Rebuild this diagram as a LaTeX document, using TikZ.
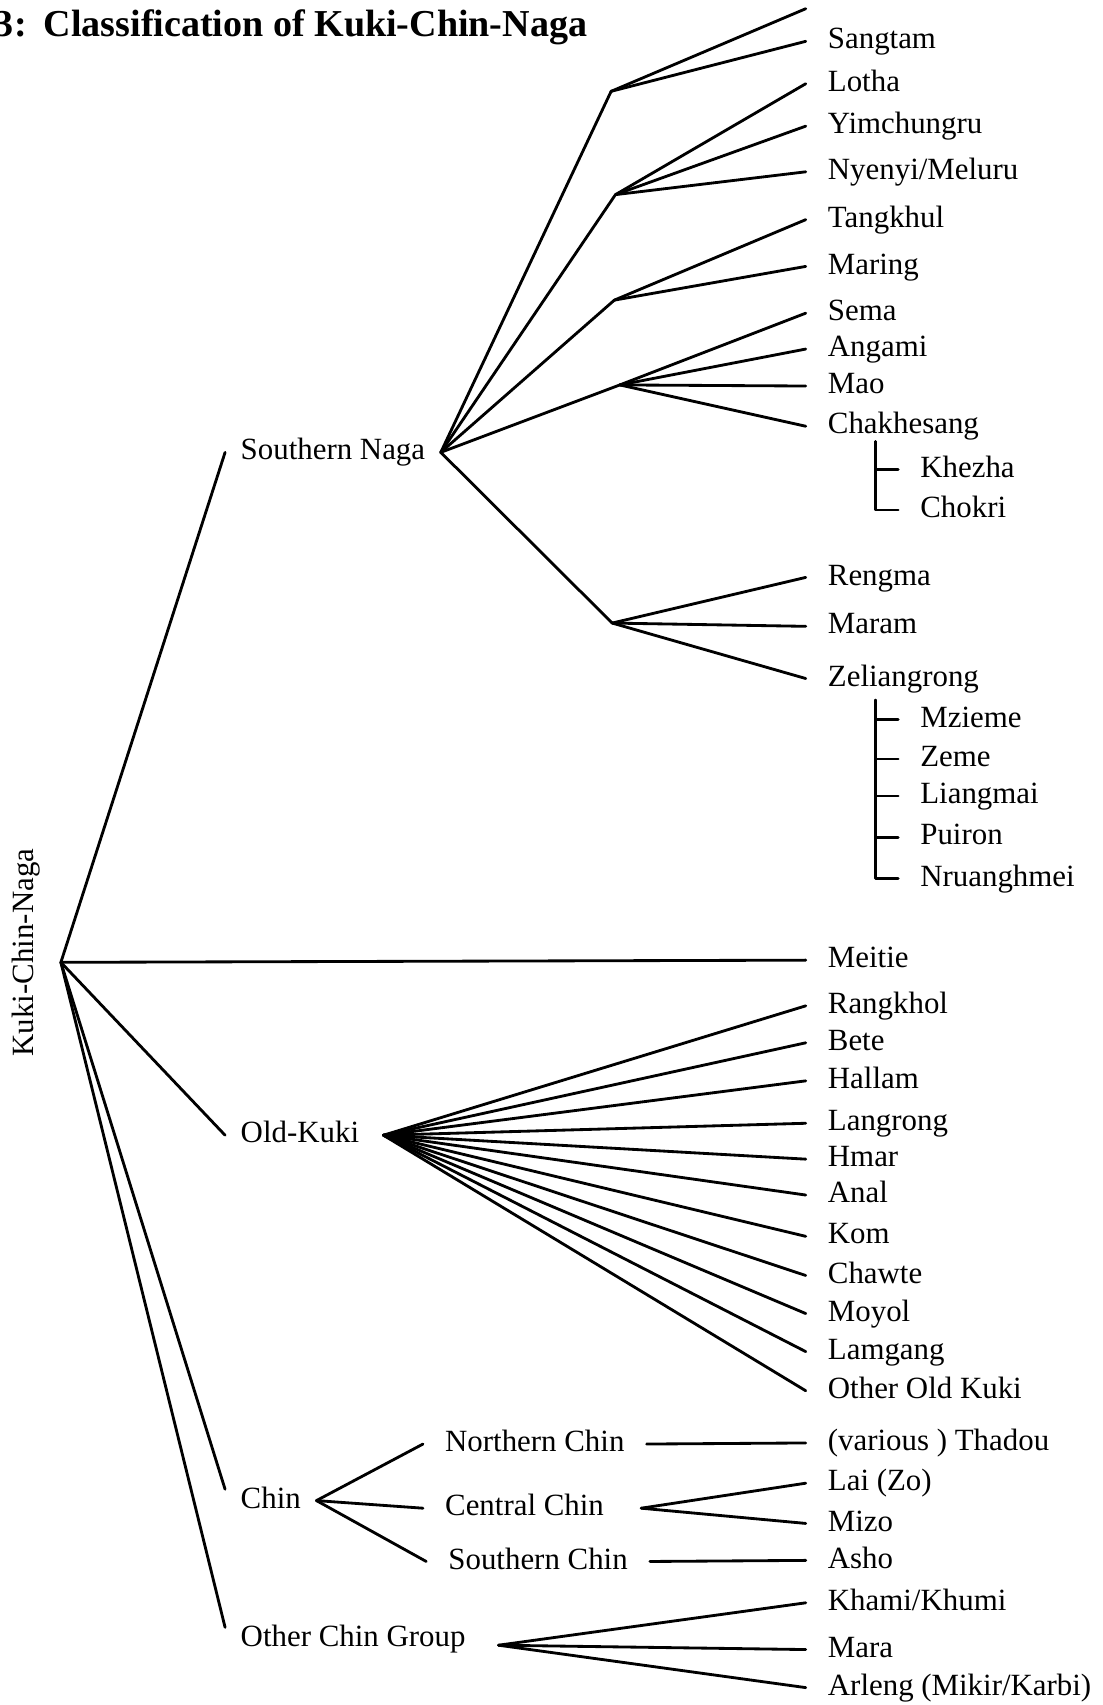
\documentclass[tikz,border=0pt]{standalone}
\usepackage{fontspec}
\setmainfont{Liberation Serif}
\usepackage{tikz}

\begin{document}
\begin{tikzpicture}
	[x=0.5pt, y=-0.5pt, inner sep=0pt, font=\fontsize{14.2}{17}\selectfont,
	leaf/.style	= {anchor=west, inner xsep=10pt, text height=0.85em, text depth=0.15em},
	group/.style	= {anchor=west, inner xsep=7pt, text height=0.85em, text depth=0.15em},
	chinsub/.style	= {group, inner xsep=10pt},
	paths/.style	= {line width=1.3pt, line cap=round, line join=round},
	title/.style	= {anchor=base west, font=\fontsize{17.5}{20}\selectfont\bfseries}]
	
	\useasboundingbox (0,0) rectangle (1014,1568);
	
	\node at (-5, 34)	[title]	(ttl)	{3:\hspace{0.45em}Classification of Kuki-Chin-Naga};
	
	\coordinate (root) at (56, 885);
	\node at (24, 876)	[rotate=90]	(kcn)	{Kuki-Chin-Naga};
	
	\node at (207, 416)		[group]	(sn)	{Southern Naga};
	\node at (207, 1044)	[group]	(ok)	{Old-Kuki};
	\node at (207, 1380)	[group]	(chin)	{Chin};
	\node at (207, 1507)	[group]	(ocg)	{Other Chin Group};
	
	\node at (389, 1328)	[chinsub]	(nc)	{Northern Chin};
	\node at (389, 1387)	[chinsub]	(cc)	{Central Chin};
	\node at (392, 1436)	[chinsub]	(sc)	{Southern Chin};
	
	% branch points
	\coordinate (sn1) at (562, 84);
	\coordinate (sn2) at (566, 179);
	\coordinate (sn3) at (565, 276);
	\coordinate (sn4) at (570, 354);
	\coordinate (sn5) at (563, 573);
	\coordinate (okj) at ([xshift=4pt]ok.east);
	\coordinate (ccj) at ([xshift=7pt]cc.east);
	\coordinate (ocgj) at ([xshift=8pt,yshift=-3pt]ocg.east);
	\coordinate (cut) at (741, 8);
	\coordinate (chkb) at (805, 406);
	\coordinate (zelb) at (805, 644);
	
	% Southern Naga
	\node at (741, 38)		[leaf]	(sangtam)		{Sangtam};
	\node at (741, 77)		[leaf]	(lotha)			{Lotha};
	\node at (741, 116)		[leaf]	(yimchungru)	{Yimchungru};
	\node at (741, 158)		[leaf]	(nyenyi)		{Nyenyi/Meluru};
	\node at (741, 202)		[leaf]	(tangkhul)		{Tangkhul};
	\node at (741, 245)		[leaf]	(maring)		{Maring};
	\node at (741, 288)		[leaf]	(sema)			{Sema};
	\node at (741, 321)		[leaf]	(angami)		{Angami};
	\node at (741, 355)		[leaf]	(mao)			{Mao};
	\node at (741, 392)		[leaf]	(chakhesang)	{Chakhesang};
	\node at (826, 432)		[leaf]	(khezha)		{Khezha};
	\node at (826, 469)		[leaf]	(chokri)		{Chokri};
	\node at (741, 531)		[leaf]	(rengma)		{Rengma};
	\node at (741, 576)		[leaf]	(maram)			{Maram};
	\node at (741, 624)		[leaf]	(zeliangrong)	{Zeliangrong};
	\node at (826, 662)		[leaf]	(mzieme)		{Mzieme};
	\node at (826, 698)		[leaf]	(zeme)			{Zeme};
	\node at (826, 732)		[leaf]	(liangmai)		{Liangmai};
	\node at (826, 770)		[leaf]	(puiron)		{Puiron};
	\node at (826, 808)		[leaf]	(nruanghmei)	{Nruanghmei};
	
	\node at (741, 883)		[leaf]	(meitie)		{Meitie};
	
	% Old-Kuki
	\node at (741, 925)		[leaf]	(rangkhol)		{Rangkhol};
	\node at (741, 959)		[leaf]	(bete)			{Bete};
	\node at (741, 994)		[leaf]	(hallam)		{Hallam};
	\node at (741, 1033)	[leaf]	(langrong)		{Langrong};
	\node at (741, 1066)	[leaf]	(hmar)			{Hmar};
	\node at (741, 1099)	[leaf]	(anal)			{Anal};
	\node at (741, 1137)	[leaf]	(kom)			{Kom};
	\node at (741, 1173)	[leaf]	(chawte)		{Chawte};
	\node at (741, 1208)	[leaf]	(moyol)			{Moyol};
	\node at (741, 1243)	[leaf]	(lamgang)		{Lamgang};
	\node at (741, 1279)	[leaf]	(otherok)		{Other Old Kuki};
	
	% Chin
	\node at (741, 1327)	[leaf]	(thadou)		{(various ) Thadou};
	\node at (741, 1364)	[leaf]	(lai)			{Lai (Zo)};
	\node at (741, 1401)	[leaf]	(mizo)			{Mizo};
	\node at (741, 1435)	[leaf]	(asho)			{Asho};
	\node at (741, 1474)	[leaf]	(khami)			{Khami/Khumi};
	\node at (741, 1517)	[leaf]	(mara)			{Mara};
	\node at (741, 1552)	[leaf]	(arleng)		{Arleng (Mikir/Karbi)};
	
	\draw [paths] (root) -- (sn.west);
	\draw [paths] (root) -- (meitie.west);
	\draw [paths] (root) -- (ok.west);
	\draw [paths] (root) -- (chin.north west);
	\draw [paths] (root) -- (ocg.north west);
	
	\draw [paths] (sn.east) -- (sn1);
	\draw [paths] (sn.east) -- (sn2);
	\draw [paths] (sn.east) -- (sn3);
	\draw [paths] (sn.east) -- (sn4);
	\draw [paths] (sn.east) -- (sn5);
	
	\draw [paths] (sn1) -- (cut);
	\draw [paths] (sn1) -- (sangtam.west);
	\draw [paths] (sn2) -- (lotha.west);
	\draw [paths] (sn2) -- (yimchungru.west);
	\draw [paths] (sn2) -- (nyenyi.west);
	\draw [paths] (sn3) -- (tangkhul.west);
	\draw [paths] (sn3) -- (maring.west);
	\draw [paths] (sn4) -- (sema.west);
	\draw [paths] (sn4) -- (angami.west);
	\draw [paths] (sn4) -- (mao.west);
	\draw [paths] (sn4) -- (chakhesang.west);
	\draw [paths] (chkb) |- (khezha.west);
	\draw [paths] (chkb) |- (chokri.west);
	\draw [paths] (sn5) -- (rengma.west);
	\draw [paths] (sn5) -- (maram.west);
	\draw [paths] (sn5) -- (zeliangrong.west);
	\draw [paths] (zelb) |- (mzieme.west);
	\draw [paths] (zelb) |- (zeme.west);
	\draw [paths] (zelb) |- (liangmai.west);
	\draw [paths] (zelb) |- (puiron.west);
	\draw [paths] (zelb) |- (nruanghmei.west);
	
	\draw [paths] (okj) -- (rangkhol.west);
	\draw [paths] (okj) -- (bete.west);
	\draw [paths] (okj) -- (hallam.west);
	\draw [paths] (okj) -- (langrong.west);
	\draw [paths] (okj) -- (hmar.west);
	\draw [paths] (okj) -- (anal.west);
	\draw [paths] (okj) -- (kom.west);
	\draw [paths] (okj) -- (chawte.west);
	\draw [paths] (okj) -- (moyol.west);
	\draw [paths] (okj) -- (lamgang.west);
	\draw [paths] (okj) -- (otherok.west);
	
	\draw [paths] (chin.east) -- (nc.west);
	\draw [paths] (chin.east) -- (cc.west);
	\draw [paths] (chin.east) -- (sc.west);
	\draw [paths] (nc.east) -- (thadou.west);
	\draw [paths] (ccj) -- (lai.west);
	\draw [paths] (ccj) -- (mizo.west);
	\draw [paths] (sc.east) -- (asho.west);
	
	\draw [paths] (ocgj) -- (khami.west);
	\draw [paths] (ocgj) -- (mara.west);
	\draw [paths] (ocgj) -- (arleng.west);
	
\end{tikzpicture}
\end{document}
